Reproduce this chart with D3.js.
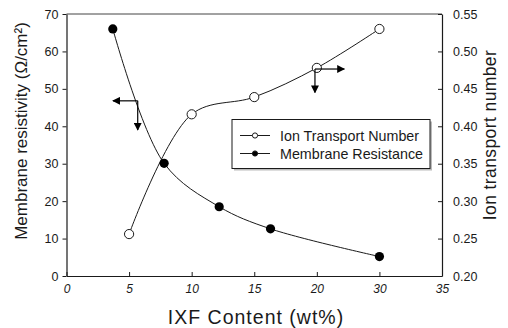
<!DOCTYPE html>
<html>
<head>
<meta charset="utf-8">
<script src="https://cdn.jsdelivr.net/npm/d3@7"></script>
<style>
  body { margin: 0; background: #fff; }
  svg { display: block; font-family: "Liberation Sans", Arial, sans-serif; }
</style>
</head>
<body>
<script>
// x tick labels as printed (the original axis skips 25)
const xTicks = [0, 5, 10, 15, 20, 30, 35];
const leftTicks = [0, 10, 20, 30, 40, 50, 60, 70];
const rightTicks = [0.20, 0.25, 0.30, 0.35, 0.40, 0.45, 0.50, 0.55];

// Membrane resistance (left axis)
const resX = [3.7, 7.8, 12.2, 16.3, 30];
const resY = [66.0, 30.1, 18.5, 12.6, 5.2];

// Ion transport number (right axis)
const ionX = [5, 10, 15, 20, 30];
const ionY = [0.256, 0.416, 0.439, 0.478, 0.530];

const width = 508;
const height = 328;
const margin = { top: 14, right: 66, bottom: 52, left: 66.5 };
const x0 = margin.left, x1 = width - margin.right;
const yTop = margin.top, yBot = height - margin.bottom;

const svg = d3.select('body').append('svg')
    .attr('width', width)
    .attr('height', height);

// piecewise scale: printed ticks are evenly spaced
const xScale = d3.scaleLinear()
    .domain(xTicks)
    .range(xTicks.map((d, i) => x0 + (x1 - x0) * i / (xTicks.length - 1)));
const yLeft = d3.scaleLinear().domain([0, 70]).range([yBot, yTop]);
const yRight = d3.scaleLinear().domain([0.20, 0.55]).range([yBot, yTop]);

const ink = '#1a1a1a';

// frame top line
svg.append('line')
    .attr('x1', x0).attr('x2', x1)
    .attr('y1', yTop).attr('y2', yTop)
    .attr('stroke', '#444').attr('stroke-width', 1);

// x axis
const gx = svg.append('g')
    .attr('transform', `translate(0,${yBot})`)
    .call(d3.axisBottom(xScale).tickValues(xTicks).tickFormat(d3.format('d'))
        .tickSizeInner(-4).tickSizeOuter(0).tickPadding(8));
gx.selectAll('text').attr('font-size', 12).attr('font-style', 'italic').attr('fill', ink);

// left axis
const gl = svg.append('g')
    .attr('transform', `translate(${x0},0)`)
    .call(d3.axisLeft(yLeft).tickValues(leftTicks).tickSizeInner(4).tickSizeOuter(0).tickPadding(4));
gl.selectAll('text').attr('font-size', 12.5).attr('fill', ink);

// right axis
const gr = svg.append('g')
    .attr('transform', `translate(${x1},0)`)
    .call(d3.axisRight(yRight).tickValues(rightTicks).tickFormat(d3.format('.2f'))
        .tickSizeInner(-4).tickSizeOuter(0).tickPadding(11));
gr.selectAll('text').attr('font-size', 12.5).attr('fill', ink);

svg.selectAll('.domain, .tick line').attr('stroke', ink);
svg.selectAll('.domain').attr('stroke-width', 1.2);

// axis titles
svg.append('text')
    .attr('transform', `translate(27,${(yTop + yBot) / 2 - 14}) rotate(-90)`)
    .attr('text-anchor', 'middle')
    .attr('font-size', 17)
    .attr('fill', ink)
    .text('Membrane resistivity (Ω/cm²)');

svg.append('text')
    .attr('transform', `translate(496,${(yTop + yBot) / 2 - 10}) rotate(-90)`)
    .attr('text-anchor', 'middle')
    .attr('font-size', 17.5)
    .attr('letter-spacing', 0.4)
    .attr('fill', ink)
    .text('Ion transport number');

svg.append('text')
    .attr('x', 256)
    .attr('y', 324)
    .attr('text-anchor', 'middle')
    .attr('font-size', 19.5)
    .attr('letter-spacing', 1)
    .attr('fill', ink)
    .text('IXF Content (wt%)');

// curves
const resData = resX.map((d, i) => [d, resY[i]]);
const ionData = ionX.map((d, i) => [d, ionY[i]]);

const resLine = d3.line()
    .x(d => xScale(d[0]))
    .y(d => yLeft(d[1]))
    .curve(d3.curveCatmullRom.alpha(0.5));
const ionLine = d3.line()
    .x(d => xScale(d[0]))
    .y(d => yRight(d[1]))
    .curve(d3.curveCatmullRom.alpha(0.5));

svg.append('path').datum(resData)
    .attr('d', resLine).attr('fill', 'none').attr('stroke', ink).attr('stroke-width', 1);
svg.append('path').datum(ionData)
    .attr('d', ionLine).attr('fill', 'none').attr('stroke', ink).attr('stroke-width', 1);

svg.selectAll('.res-pt').data(resData).enter().append('circle')
    .attr('class', 'res-pt')
    .attr('cx', d => xScale(d[0])).attr('cy', d => yLeft(d[1]))
    .attr('r', 4.6).attr('fill', '#000');
svg.selectAll('.ion-pt').data(ionData).enter().append('circle')
    .attr('class', 'ion-pt')
    .attr('cx', d => xScale(d[0])).attr('cy', d => yRight(d[1]))
    .attr('r', 4.6).attr('fill', '#fff').attr('stroke', ink).attr('stroke-width', 1);

// arrows pointing at the axis each curve belongs to
svg.append('defs').append('marker')
    .attr('id', 'head')
    .attr('viewBox', '0 0 10 10')
    .attr('refX', 9).attr('refY', 5)
    .attr('markerWidth', 8).attr('markerHeight', 8)
    .attr('markerUnits', 'userSpaceOnUse')
    .attr('orient', 'auto')
    .append('path').attr('d', 'M0,0 L10,5 L0,10 z').attr('fill', '#000');

function arrow(cx, cy, hx, vy) {
    svg.append('line')
        .attr('x1', cx).attr('y1', cy).attr('x2', hx).attr('y2', cy)
        .attr('stroke', '#000').attr('stroke-width', 1.2).attr('marker-end', 'url(#head)');
    svg.append('line')
        .attr('x1', cx).attr('y1', cy).attr('x2', cx).attr('y2', vy)
        .attr('stroke', '#000').attr('stroke-width', 1.2).attr('marker-end', 'url(#head)');
}
arrow(xScale(5.69), yLeft(46.8), xScale(3.71), yLeft(39.0));
arrow(xScale(19.85), yRight(0.4765), xScale(24.4), yRight(0.445));

// legend
const lg = svg.append('g').attr('transform', 'translate(232,119.5)');
lg.append('rect').attr('x', 2).attr('y', 2).attr('width', 198).attr('height', 49).attr('fill', '#bbb');
lg.append('rect').attr('width', 198).attr('height', 49)
    .attr('fill', '#fff').attr('stroke', ink).attr('stroke-width', 1);

const legendItems = [
    { name: 'Ion Transport Number', fill: '#fff' },
    { name: 'Membrane Resistance', fill: '#000' }
];
legendItems.forEach((item, i) => {
    const yy = 16 + i * 18;
    lg.append('line').attr('x1', 8).attr('x2', 38).attr('y1', yy).attr('y2', yy)
        .attr('stroke', ink).attr('stroke-width', 1);
    lg.append('circle').attr('cx', 23).attr('cy', yy).attr('r', 2.6)
        .attr('fill', item.fill).attr('stroke', ink).attr('stroke-width', 1);
    lg.append('text').attr('x', 48).attr('y', yy + 5)
        .attr('font-size', 14.3).attr('fill', ink)
        .text(item.name);
});
</script>
</body>
</html>
